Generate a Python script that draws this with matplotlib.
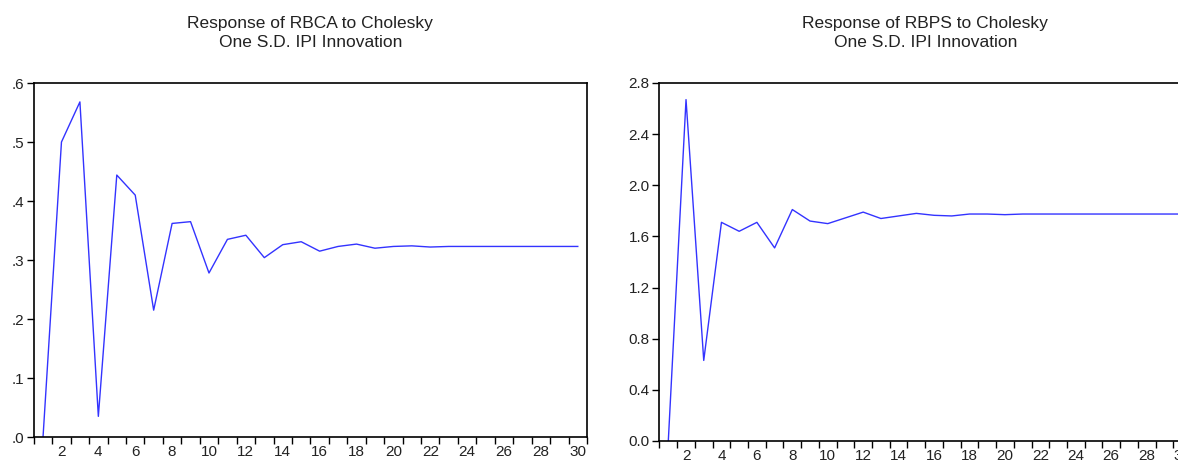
import matplotlib.pyplot as plt
from matplotlib.ticker import FuncFormatter, MultipleLocator, FixedLocator

periods = list(range(1, 31))

rbca = [0.0, 0.500, 0.568, 0.035, 0.444, 0.410, 0.215, 0.362, 0.365, 0.278,
        0.335, 0.342, 0.304, 0.326, 0.331, 0.315, 0.323, 0.327, 0.320, 0.323,
        0.324, 0.322, 0.323, 0.323, 0.323, 0.323, 0.323, 0.323, 0.323, 0.323]

rbps = [0.0, 2.67, 0.63, 1.71, 1.64, 1.71, 1.51, 1.81, 1.72, 1.70,
        1.745, 1.79, 1.74, 1.76, 1.78, 1.765, 1.76, 1.775, 1.775, 1.77,
        1.775, 1.775, 1.775, 1.775, 1.775, 1.775, 1.775, 1.775, 1.775, 1.775]

titles = ["Response of RBCA to Cholesky\nOne S.D. IPI Innovation",
          "Response of RBPS to Cholesky\nOne S.D. IPI Innovation"]

plt.rcParams['font.family'] = ['Liberation Sans Narrow', 'Liberation Sans', 'DejaVu Sans']

fig = plt.figure(figsize=(11.78, 4.62), dpi=100)
ax1 = fig.add_axes([0.0287, 0.0541, 0.4696, 0.7662])
ax2 = fig.add_axes([0.5598, 0.0455, 0.4512, 0.7749])

def style(ax, ymax, ystep, fmt):
	ax.set_xlim(0.5, 30.5)
	ax.set_ylim(0, ymax)
	ax.xaxis.set_major_locator(FixedLocator(range(2, 31, 2)))
	ax.xaxis.set_minor_locator(FixedLocator([i + 0.5 for i in range(0, 31)]))
	ax.tick_params(axis="x", which="major", length=0, labelsize=11, pad=6, colors="#222222")
	ax.tick_params(axis="x", which="minor", length=5, width=1, direction="out")
	ax.yaxis.set_major_locator(MultipleLocator(ystep))
	ax.yaxis.set_major_formatter(FuncFormatter(fmt))
	ax.tick_params(axis="y", length=5, width=1, direction="out", labelsize=11, pad=2, colors="#222222")
	ax.tick_params(axis="both", which="both", color="black")
	for s in ax.spines.values():
		s.set_linewidth(1.2)
		s.set_color("black")

ax1.plot(periods, rbca, color="#3333ff", linewidth=1.0)
style(ax1, 0.6, 0.1, lambda v, p: ("%.1f" % v).lstrip("0"))
ax1.set_title(titles[0], fontsize=12.5, pad=26, linespacing=1.35, color="#222222")

ax2.plot(periods, rbps, color="#3333ff", linewidth=1.0)
style(ax2, 2.8, 0.4, lambda v, p: "%.1f" % v)
ax2.set_title(titles[1], fontsize=12.5, pad=26, linespacing=1.35, color="#222222")

fig.savefig("out.png", dpi=100)
